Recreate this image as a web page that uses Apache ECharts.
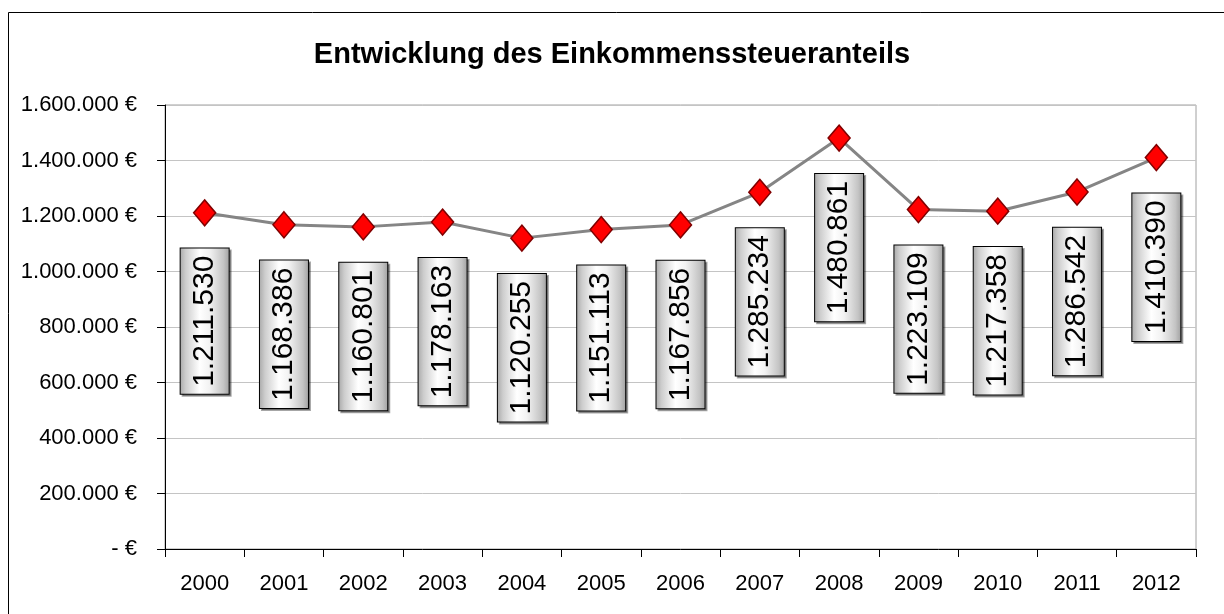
<!DOCTYPE html>
<html>
<head>
<meta charset="utf-8">
<script src="https://cdn.jsdelivr.net/npm/echarts@6/dist/echarts.min.js"></script>
<style>
  html, body { margin: 0; padding: 0; background: #fff; }
  #chart { width: 1224px; height: 614px; }
</style>
</head>
<body>
<div id="chart"></div>
<script>
// Daten
const years = ['2000', '2001', '2002', '2003', '2004', '2005', '2006', '2007', '2008', '2009', '2010', '2011', '2012']
const anteil = [1211530, 1168386, 1160801, 1178163, 1120255, 1151113, 1167856, 1285234, 1480861, 1223109, 1217358, 1286542, 1410390]
const yTicks = [0, 200000, 400000, 600000, 800000, 1000000, 1200000, 1400000, 1600000]

// Tausenderpunkte
function fmt (v) {
  return String(v).replace(/\B(?=(\d{3})+(?!\d))/g, '.')
}

const font = '"Liberation Sans", Arial, sans-serif'
let myChart = echarts.init(document.getElementById('chart'))

let option = {
  animation: false,
  title: {
    text: 'Entwicklung des Einkommenssteueranteils',
    left: 'center',
    top: 40,
    padding: [0, 0, 0, 10],
    textStyle: { fontFamily: font, fontSize: 29, fontWeight: 'bold', color: '#000' }
  },
  // Rahmen um das ganze Diagramm
  graphic: [{
    type: 'rect',
    shape: { x: 8.5, y: 12.5, width: 1300, height: 700 },
    style: { fill: null, stroke: '#000', lineWidth: 1 },
    silent: true
  }],
  grid: {
    left: 165,
    right: 28,
    top: 105,
    bottom: 65,
    show: true,
    borderColor: '#a0a0a0',
    borderWidth: 1
  },
  xAxis: {
    type: 'category',
    data: years,
    boundaryGap: true,
    axisLine: { lineStyle: { color: '#000', width: 1 } },
    axisTick: { show: true, length: 8, inside: false, lineStyle: { color: '#000' } },
    axisLabel: { fontFamily: font, fontSize: 22, color: '#000', margin: 24 }
  },
  yAxis: {
    type: 'value',
    min: yTicks[0],
    max: yTicks[yTicks.length - 1],
    interval: yTicks[1] - yTicks[0],
    axisLine: { show: true, lineStyle: { color: '#000', width: 1 } },
    axisTick: { show: true, length: 8, lineStyle: { color: '#000' } },
    splitLine: { lineStyle: { color: '#c4c4c4', width: 1 } },
    axisLabel: {
      fontFamily: font,
      fontSize: 22,
      color: '#000',
      margin: 28,
      formatter: v => v === 0 ? '- €' : fmt(v) + ' €'
    }
  },
  series: [{
    name: 'Einkommenssteueranteil',
    type: 'line',
    data: anteil,
    symbol: 'diamond',
    symbolSize: [22, 26],
    lineStyle: { color: '#858585', width: 3 },
    itemStyle: { color: '#ff0000', borderColor: '#800000', borderWidth: 1.5 },
    z: 3,
    label: {
      show: true,
      position: 'bottom',
      distance: 22,
      rotate: 90,
      align: 'right',
      verticalAlign: 'middle',
      formatter: p => fmt(p.value),
      fontFamily: font,
      fontSize: 30,
      lineHeight: 30,
      color: '#000',
      padding: [9, 7, 9, 7],
      borderColor: '#000',
      borderWidth: 1,
      shadowColor: 'rgba(0,0,0,0.35)',
      shadowOffsetX: 2,
      shadowOffsetY: 2,
      backgroundColor: new echarts.graphic.LinearGradient(0, 0, 0, 1, [
        { offset: 0, color: '#a8a8a8' },
        { offset: 0.12, color: '#cdcdcd' },
        { offset: 0.4, color: '#ffffff' },
        { offset: 0.6, color: '#f2f2f2' },
        { offset: 0.88, color: '#c4c4c4' },
        { offset: 1, color: '#a0a0a0' }
      ])
    }
  }]
}

myChart.setOption(option)
</script>
</body>
</html>
